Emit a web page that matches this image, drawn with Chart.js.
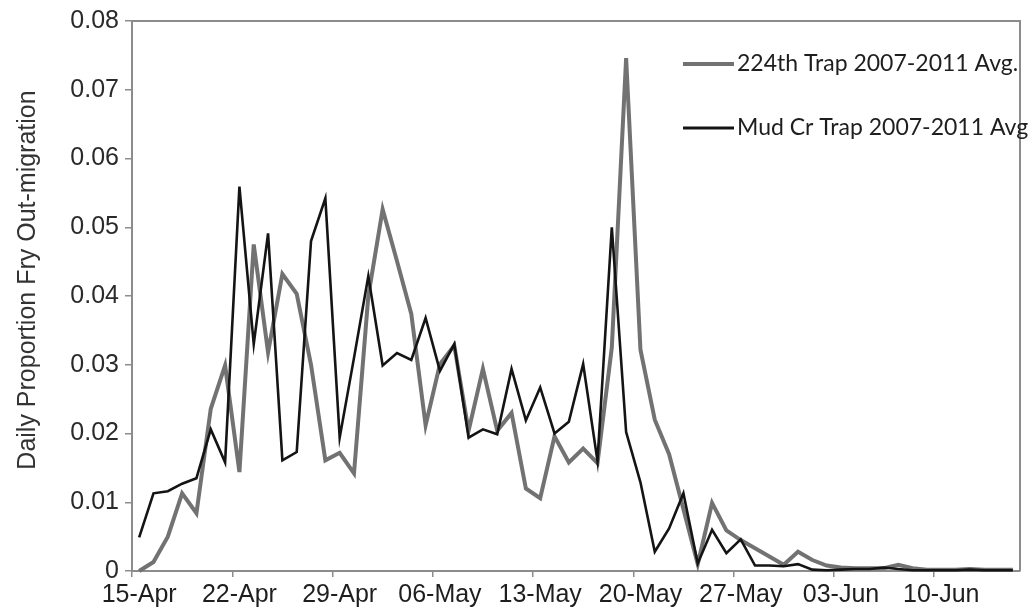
<!DOCTYPE html>
<html>
<head>
<meta charset="utf-8">
<title>Daily Proportion Fry Out-migration</title>
<script src="https://cdn.jsdelivr.net/npm/chart.js@4.4.0/dist/chart.umd.min.js"></script>
<style>
  html, body { margin: 0; padding: 0; background: #fff; }
  #wrap { width: 1034px; height: 613px; }
</style>
</head>
<body>
<div id="wrap"><canvas id="fryChart" width="1034" height="613"></canvas></div>
<script>
// one category per day, 15-Apr to 15-Jun
const days = [
  '15-Apr', '16-Apr', '17-Apr', '18-Apr', '19-Apr', '20-Apr', '21-Apr', '22-Apr',
  '23-Apr', '24-Apr', '25-Apr', '26-Apr', '27-Apr', '28-Apr', '29-Apr', '30-Apr',
  '01-May', '02-May', '03-May', '04-May', '05-May', '06-May', '07-May', '08-May',
  '09-May', '10-May', '11-May', '12-May', '13-May', '14-May', '15-May', '16-May',
  '17-May', '18-May', '19-May', '20-May', '21-May', '22-May', '23-May', '24-May',
  '25-May', '26-May', '27-May', '28-May', '29-May', '30-May', '31-May',
  '01-Jun', '02-Jun', '03-Jun', '04-Jun', '05-Jun', '06-Jun', '07-Jun', '08-Jun',
  '09-Jun', '10-Jun', '11-Jun', '12-Jun', '13-Jun', '14-Jun', '15-Jun'
];

// 224th trap, 5-year average daily proportion
const trap224 = [
  0.0000, 0.0013, 0.0050, 0.0113, 0.0084, 0.0236, 0.0299, 0.0144,
  0.0475, 0.0318, 0.0432, 0.0403, 0.0300, 0.0161, 0.0172, 0.0142,
  0.0400, 0.0526, 0.0451, 0.0374, 0.0212, 0.0301, 0.0328, 0.0204,
  0.0294, 0.0204, 0.0230, 0.0120, 0.0106, 0.0196, 0.0158, 0.0178,
  0.0157, 0.0325, 0.0746, 0.0322, 0.0220, 0.0170, 0.0090, 0.0010,
  0.0099, 0.0059, 0.0045, 0.0033, 0.0021, 0.0009, 0.0028,
  0.0016, 0.0008, 0.0005, 0.0004, 0.0004, 0.0004, 0.0009, 0.0004,
  0.0002, 0.0002, 0.0002, 0.0003, 0.0002, 0.0002, 0.0002
];

// Mud Creek trap, 5-year average daily proportion
const mudCreek = [
  0.0049, 0.0113, 0.0116, 0.0127, 0.0135, 0.0206, 0.0158, 0.0559,
  0.0330, 0.0491, 0.0161, 0.0173, 0.0480, 0.0542, 0.0194, 0.0310,
  0.0429, 0.0299, 0.0317, 0.0307, 0.0368, 0.0291, 0.0330, 0.0194,
  0.0206, 0.0199, 0.0294, 0.0219, 0.0267, 0.0200, 0.0217, 0.0301,
  0.0160, 0.0500, 0.0202, 0.0129, 0.0028, 0.0062, 0.0113, 0.0011,
  0.0060, 0.0026, 0.0046, 0.0008, 0.0008, 0.0007, 0.0010,
  0.0002, 0.0001, 0.0002, 0.0003, 0.0003, 0.0005, 0.0003, 0.0001,
  0.0001, 0.0001, 0.0001, 0.0002, 0.0001, 0.0001, 0.0001
];

const seriesNames = ['224th Trap 2007-2011 Avg.', 'Mud Cr Trap 2007-2011 Avg'];
const seriesColors = ['#727272', '#141414'];
const axisTitle = 'Daily Proportion Fry Out-migration';
const frameColor = '#8c8c8c';

// top and right edges of the plot box (bottom/left come from the axes)
const plotFrame = {
  id: 'plotFrame',
  beforeDatasetsDraw(chart) {
    const { ctx, chartArea: a } = chart;
    ctx.save();
    ctx.strokeStyle = frameColor;
    ctx.lineWidth = 2;
    ctx.beginPath();
    ctx.moveTo(a.left, a.top);
    ctx.lineTo(a.right, a.top);
    ctx.lineTo(a.right, a.bottom);
    ctx.stroke();
    ctx.restore();
  }
};

// rotated y title, a little above the middle of the axis
const yTitle = {
  id: 'yTitle',
  afterDraw(chart) {
    const { ctx } = chart;
    ctx.save();
    ctx.translate(28, 280);
    ctx.rotate(-Math.PI / 2);
    ctx.font = '25px "Liberation Sans", Arial, sans-serif';
    ctx.fillStyle = '#333';
    ctx.textAlign = 'center';
    ctx.textBaseline = 'middle';
    ctx.fillText(axisTitle, 0, 0);
    ctx.restore();
  }
};

// legend sits inside the plot, top right
const insideLegend = {
  id: 'insideLegend',
  afterDatasetsDraw(chart) {
    const { ctx } = chart;
    const rows = [
      { y: 64, width: 4 },
      { y: 128, width: 3 }
    ];
    ctx.save();
    ctx.font = '23px Lato, "Open Sans", sans-serif';
    ctx.textBaseline = 'middle';
    ctx.fillStyle = '#1e1e1e';
    rows.forEach((r, i) => {
      ctx.strokeStyle = seriesColors[i];
      ctx.lineWidth = r.width;
      ctx.beginPath();
      ctx.moveTo(683, r.y);
      ctx.lineTo(734, r.y);
      ctx.stroke();
      ctx.fillText(seriesNames[i], 737, r.y);
    });
    ctx.restore();
  }
};

const ctx = document.getElementById('fryChart').getContext('2d');

new Chart(ctx, {
  type: 'line',
  data: {
    labels: days,
    datasets: [
      {
        label: seriesNames[0],
        data: trap224,
        borderColor: seriesColors[0],
        borderWidth: 4,
        pointRadius: 0,
        tension: 0,
        clip: false,
        order: 1
      },
      {
        label: seriesNames[1],
        data: mudCreek,
        borderColor: seriesColors[1],
        borderWidth: 2.6,
        pointRadius: 0,
        tension: 0,
        clip: false,
        order: 0
      }
    ]
  },
  options: {
    responsive: false,
    devicePixelRatio: 1,
    animation: false,
    layout: { padding: { top: 19, right: 14, left: 0, bottom: 0 } },
    plugins: {
      legend: { display: false },
      tooltip: { enabled: false }
    },
    scales: {
      x: {
        type: 'category',
        offset: true,
        grid: {
          offset: true,
          drawOnChartArea: false,
          tickLength: 6,
          lineWidth: 1.5,
          color: c => (c.index % 7 === 0 ? frameColor : 'rgba(0,0,0,0)')
        },
        border: { display: true, color: frameColor, width: 2 },
        ticks: {
          autoSkip: false,
          maxRotation: 0,
          minRotation: 0,
          padding: 3,
          color: '#1e1e1e',
          font: { family: '"Liberation Sans", Arial, sans-serif', size: 25 },
          callback: (v, i) => (i % 7 === 0 ? days[i] : '')
        },
        afterFit: s => { s.height = 42; }
      },
      y: {
        min: 0,
        max: 0.08,
        grid: {
          drawOnChartArea: false,
          tickLength: 7,
          lineWidth: 1.5,
          color: frameColor
        },
        border: { display: true, color: frameColor, width: 2 },
        ticks: {
          stepSize: 0.01,
          padding: 6,
          color: '#2a2a2a',
          font: { family: '"Liberation Sans", Arial, sans-serif', size: 25 },
          callback: v => (v === 0 ? '0' : v.toFixed(2))
        },
        afterFit: s => { s.width = 132; }
      }
    }
  },
  plugins: [plotFrame, insideLegend, yTitle]
});
</script>
</body>
</html>
